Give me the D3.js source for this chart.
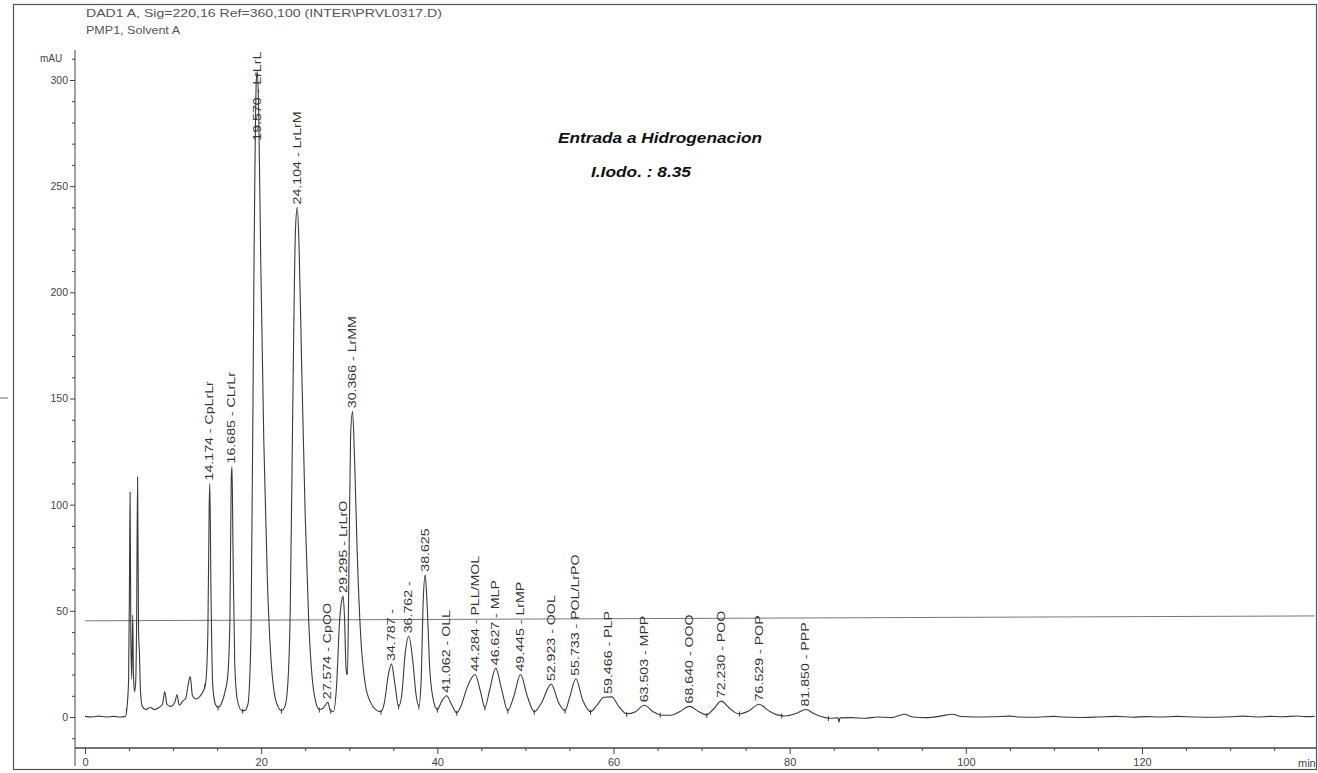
<!DOCTYPE html>
<html><head><meta charset="utf-8">
<script src="https://cdn.jsdelivr.net/npm/d3@7"></script>
<style>
body{margin:0;background:#fff;}
svg{display:block;font-family:"Liberation Sans",Arial,sans-serif;}
</style>
</head><body>
<svg id="c" width="1318" height="773"></svg>
<script>
// ---- data ----
const headerLines = ["DAD1 A, Sig=220,16 Ref=360,100 (INTER\\PRVL0317.D)", "PMP1, Solvent A"];
const noteLines = ["Entrada a Hidrogenacion", "I.Iodo. : 8.35"];
const yUnit = "mAU";
const xUnit = "min";
const yTickLabels = [0, 50, 100, 150, 200, 250, 300];
const xTickLabels = [0, 20, 40, 60, 80, 100, 120];

const peakRT = [14.174, 16.685, 19.570, 24.104, 27.574, 29.295, 30.366, 34.787, 36.762, 38.625, 41.062, 44.284, 46.627, 49.445, 52.923, 55.733, 59.466, 63.503, 68.640, 72.230, 76.529, 81.850];
const peakName = ["CpLrLr", "CLrLr", "LrLrL", "LrLrM", "CpOO", "LrLrO", "LrMM", "", "", "", "OLL", "PLL/MOL", "MLP", "LrMP", "OOL", "POL/LrPO", "PLP", "MPP", "OOO", "POO", "POP", "PPP"];
const peakHeight = [110, 118, 304, 240, 7, 57, 144, 25, 38, 67, 10, 20, 23, 20, 15.5, 18, 9.5, 5.5, 5, 7.5, 6, 3.5];

const traceT = [0,0.8,1.6,2.4,3.2,4.0,4.6,4.8,4.95,5.05,5.12,5.2,5.3,5.42,5.5,5.62,5.75,5.86,5.97,6.08,6.18,6.3,6.5,6.9,7.4,7.9,8.4,8.8,9.05,9.3,9.7,10.2,10.45,10.7,11.1,11.45,11.7,11.95,12.2,12.6,13.0,13.4,13.7,13.95,14.1,14.17,14.3,14.5,14.8,15.1,15.5,15.9,16.2,16.45,16.6,16.69,16.8,17.0,17.3,17.8,18.1,18.5,18.85,19.2,19.45,19.57,19.72,19.95,20.3,20.7,21.1,21.5,21.9,22.3,22.7,23.0,23.3,23.6,23.9,24.1,24.3,24.6,25.0,25.4,25.8,26.2,26.6,27.0,27.35,27.57,27.85,28.2,28.55,28.9,29.2,29.3,29.45,29.65,29.8,29.95,30.15,30.37,30.6,30.9,31.3,31.8,32.4,33.0,33.6,34.0,34.4,34.79,35.2,35.6,35.95,36.35,36.76,37.2,37.6,37.9,38.15,38.4,38.62,38.85,39.15,39.6,40.0,40.5,41.06,41.6,42.2,42.8,43.3,43.7,44.28,44.9,45.4,45.9,46.63,47.3,48.0,48.7,49.45,50.2,51.0,51.8,52.92,53.8,54.5,55.0,55.73,56.5,57.4,58.2,58.9,59.8,60.6,61.5,62.5,63.5,64.5,65.5,66.5,67.5,68.64,69.7,70.6,71.4,72.23,73.2,74.2,75.4,76.53,77.6,78.6,79.5,80.8,81.85,82.8,83.6,84.5,85.5,85.6,85.7,87,88.5,90,91.5,93,94,95.5,97,98.5,99.5,101,103,105,106,108,110,111,113,115,117,119,120.5,122,124,126,128,130,131.5,133,134.5,136,137.5,138.5,139.6];
const traceV = [0.3,0.0,0.4,0.0,0.3,0.0,0.3,6,18,65,106,40,18,48,20,12,16,45,113,40,30,12,5,3.5,4.5,3.5,4.5,6,12,6,5,7,10.5,5.5,7.5,9,15,19,10,8.5,9.5,12,16,40,100,110,60,15,6,4.5,6.5,12,19,45,112,118,80,25,8,3,3,6,40,220,300,304,285,215,130,65,28,11,5,3,5,14,50,150,230,240,222,165,95,45,18,7,3.5,4,6,7,3,2.5,14,45,56,57,48,22,20,65,132,144,122,78,38,16,7,3.5,2.5,7,19,25,15,5,10,30,38,27,10,5,16,55,67,52,22,7,3.5,7.5,10,6,2,6.5,13,17,20,12,4.5,12,23,13,3,10,20,10,2.5,6.5,15.5,6.5,3,9,18,8,2.5,6,9.3,9.5,5,1.5,2.5,5.5,2.5,0.8,0.8,2.5,5,2.5,1,4,7.5,4,1.5,3,6,3,1,0.5,1.8,3.5,1.5,0.2,-0.6,-0.4,-2.5,-0.4,-0.3,-0.6,0.0,-0.3,1.3,0.0,-0.3,0.3,1.3,0.2,0,0.1,0.4,0.0,-0.1,0.3,0,-0.2,0,0.3,-0.1,0.2,0,0.3,0,-0.1,0.1,0.4,0,0.3,0.1,0.5,0.2,0.3];

const markerT = [4.7, 13.6, 15.1, 17.9, 22.3, 26.6, 27.9, 29.7, 33.6, 35.6, 37.9, 40.0, 42.2, 45.4, 48.0, 51.0, 54.5, 57.4, 61.5, 65.3, 70.6, 74.3, 79.1, 84.4];
const thresholdT = [0, 139.6];
const thresholdV = [45.3, 47.6];

// ---- drawing ----
const svg = d3.select("#c");
const x = d3.scaleLinear().domain([0, 120]).range([85, 1142]);
const y = d3.scaleLinear().domain([0, 300]).range([717, 80]);
const axisLeftX = 75, axisRightX = 1316, axisBottomY = 748, axisTopY = 50;
const ink = "#3a3a3a";

// frame
svg.append("rect").attr("x", 13.5).attr("y", 4.5).attr("width", 1303).attr("height", 765)
  .attr("fill", "none").attr("stroke", "#555").attr("stroke-width", 1.2);
svg.append("line").attr("x1", 0).attr("x2", 8).attr("y1", 398).attr("y2", 398).attr("stroke", "#666");

// header
svg.selectAll("text.hdr").data(headerLines).join("text").attr("class", "hdr")
  .attr("x", 86).attr("y", (d, i) => 17 + i * 17)
  .attr("font-size", 10.5).attr("fill", "#555")
  .attr("textLength", (d, i) => i === 0 ? 356 : 94).attr("lengthAdjust", "spacingAndGlyphs")
  .text(d => d);

// y axis
const yTicks = d3.range(-10, 311, 10);
const yAx = svg.append("g").attr("transform", `translate(${axisLeftX},0)`)
  .call(d3.axisLeft(y).tickValues(yTicks).tickSize(3).tickFormat(d => yTickLabels.includes(d) ? d : ""));
yAx.select(".domain").remove();
yAx.selectAll(".tick line").attr("stroke", "#444").attr("x2", d => yTickLabels.includes(d) ? -5 : -3);
yAx.selectAll(".tick text").attr("x", -7).attr("font-size", 10.5).attr("fill", "#444")
  .attr("font-family", "Liberation Sans, Arial, sans-serif");
svg.append("line").attr("x1", axisLeftX).attr("x2", axisLeftX).attr("y1", axisTopY).attr("y2", axisBottomY + 18)
  .attr("stroke", "#444").attr("stroke-width", 1);
svg.append("text").attr("x", 40).attr("y", 62).attr("font-size", 10).attr("fill", "#444").text(yUnit);

// x axis
const xTicks = d3.range(0, 136, 5);
const xAx = svg.append("g").attr("transform", `translate(0,${axisBottomY})`)
  .call(d3.axisBottom(x).tickValues(xTicks).tickSize(3).tickFormat(d => xTickLabels.includes(d) ? d : ""));
xAx.select(".domain").remove();
xAx.selectAll(".tick line").attr("stroke", "#444").attr("y2", d => xTickLabels.includes(d) ? 6 : 3);
xAx.selectAll(".tick text").attr("y", 10).attr("font-size", 11).attr("fill", "#444")
  .attr("font-family", "Liberation Sans, Arial, sans-serif");
svg.append("line").attr("x1", axisLeftX).attr("x2", axisRightX).attr("y1", axisBottomY).attr("y2", axisBottomY)
  .attr("stroke", "#444").attr("stroke-width", 1.4);
svg.append("text").attr("x", 1298).attr("y", 767).attr("font-size", 11).attr("fill", "#444").text(xUnit);

// threshold line
svg.append("line").attr("x1", x(thresholdT[0])).attr("x2", x(thresholdT[1]))
  .attr("y1", y(thresholdV[0])).attr("y2", y(thresholdV[1])).attr("stroke", "#777").attr("stroke-width", 1);

// trace
const pts = traceT.map((t, i) => [t, traceV[i]]);
const line = d3.line().x(d => x(d[0])).y(d => y(d[1])).curve(d3.curveMonotoneX);
svg.append("path").datum(pts).attr("d", line).attr("fill", "none")
  .attr("stroke", ink).attr("stroke-width", 1.1).attr("stroke-linejoin", "round");

// integration markers
const bis = d3.bisector(d => d[0]).left;
function valAt(t) {
  const i = Math.max(1, Math.min(pts.length - 1, bis(pts, t)));
  const a = pts[i - 1], b = pts[i];
  return a[1] + (b[1] - a[1]) * (t - a[0]) / (b[0] - a[0]);
}
svg.selectAll("line.mk").data(markerT).join("line").attr("class", "mk")
  .attr("x1", d => x(d)).attr("x2", d => x(d))
  .attr("y1", d => y(valAt(d)) - 2).attr("y2", d => y(valAt(d)) + 3)
  .attr("stroke", ink).attr("stroke-width", 1);

// peak labels
const labelCap = 270;
svg.selectAll("text.pk").data(peakRT).join("text").attr("class", "pk")
  .attr("transform", (d, i) => `translate(${x(d) + 3.5},${y(Math.min(peakHeight[i], labelCap)) - 3}) rotate(-90) scale(1.35,1)`)
  .attr("font-size", 10.5).attr("fill", "#333")
  .text((d, i) => d.toFixed(3) + (peakName[i] ? " - " + peakName[i] : (i < 9 ? " -" : "")));

// annotation
svg.append("text").attr("x", 660).attr("y", 143).attr("text-anchor", "middle")
  .attr("font-size", 14.5).attr("font-style", "italic").attr("font-weight", "bold").attr("fill", "#111")
  .attr("textLength", 204).attr("lengthAdjust", "spacingAndGlyphs").text(noteLines[0]);
svg.append("text").attr("x", 641).attr("y", 177).attr("text-anchor", "middle")
  .attr("font-size", 14.5).attr("font-style", "italic").attr("font-weight", "bold").attr("fill", "#111")
  .attr("textLength", 100).attr("lengthAdjust", "spacingAndGlyphs").text(noteLines[1]);
</script>
</body></html>
